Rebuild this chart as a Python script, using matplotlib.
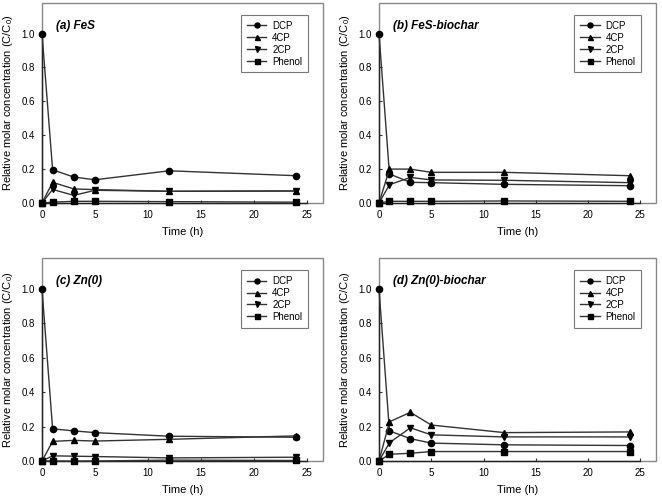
import matplotlib
matplotlib.use("Agg")
import matplotlib.pyplot as plt
from matplotlib.patches import Rectangle

time_h = [0, 1, 3, 5, 12, 24]
series_names = ["DCP", "4CP", "2CP", "Phenol"]
markers = ["o", "^", "v", "s"]

panel_titles = ["(a) FeS", "(b) FeS-biochar", "(c) Zn(0)", "(d) Zn(0)-biochar"]

fes_dcp = [1.0, 0.196, 0.153, 0.137, 0.190, 0.161]
fes_4cp = [0.0, 0.122, 0.083, 0.079, 0.069, 0.071]
fes_2cp = [0.0, 0.080, 0.045, 0.075, 0.069, 0.071]
fes_phenol = [0.0, 0.005, 0.010, 0.010, 0.008, 0.005]

fesb_dcp = [1.0, 0.171, 0.122, 0.120, 0.110, 0.102]
fesb_4cp = [0.0, 0.200, 0.200, 0.181, 0.181, 0.161]
fesb_2cp = [0.0, 0.108, 0.151, 0.136, 0.134, 0.120]
fesb_phenol = [0.0, 0.010, 0.010, 0.010, 0.012, 0.010]

zn_dcp = [1.0, 0.187, 0.175, 0.165, 0.144, 0.138]
zn_4cp = [0.0, 0.114, 0.120, 0.116, 0.126, 0.146]
zn_2cp = [0.0, 0.030, 0.028, 0.026, 0.018, 0.022]
zn_phenol = [0.0, 0.000, 0.000, 0.000, 0.005, 0.003]

znb_dcp = [1.0, 0.175, 0.130, 0.104, 0.094, 0.090]
znb_4cp = [0.0, 0.228, 0.283, 0.209, 0.165, 0.169]
znb_2cp = [0.0, 0.106, 0.193, 0.152, 0.140, 0.140]
znb_phenol = [0.0, 0.039, 0.045, 0.055, 0.055, 0.055]

panels = [
    [fes_dcp, fes_4cp, fes_2cp, fes_phenol],
    [fesb_dcp, fesb_4cp, fesb_2cp, fesb_phenol],
    [zn_dcp, zn_4cp, zn_2cp, zn_phenol],
    [znb_dcp, znb_4cp, znb_2cp, znb_phenol],
]

x_ticks = [0, 5, 10, 15, 20, 25]
y_ticks = [0.0, 0.2, 0.4, 0.6, 0.8, 1.0]

plt.rcParams['font.family'] = ['Liberation Sans', 'DejaVu Sans']
plt.rcParams['mathtext.fontset'] = 'custom'
plt.rcParams['mathtext.rm'] = 'Liberation Sans'

fig = plt.figure(figsize=(6.62, 4.99), dpi=100)

W, H = 662.0, 499.0
boxes = [
    (42, 323, 3, 203),
    (379, 656, 3, 203),
    (42, 323, 258, 461),
    (379, 656, 258, 461),
]

for i, (l, r, t, b) in enumerate(boxes):
    ax = fig.add_axes([l / W, (H - b) / H, (r - l) / W, (b - t) / H])
    for name, vals, mk in zip(series_names, panels[i], markers):
        ax.plot(time_h, vals, marker=mk, color="#333333", mfc="black", mec="black",
                markersize=4.5, linewidth=1.0, label=name, clip_on=False, zorder=3)
    ax.set_xlim(0, 26.5)
    ax.set_ylim(0, 1.18)
    ax.set_xticks(x_ticks)
    ax.set_yticks(y_ticks)
    ax.set_yticklabels([f"{v:.1f}" for v in y_ticks])
    ax.tick_params(direction="in", length=2.5, width=0.8, labelsize=7, pad=5, color="#333333")
    ax.spines["top"].set_visible(False)
    ax.spines["right"].set_visible(False)
    ax.spines["left"].set_bounds(0, 1.0)
    ax.spines["bottom"].set_bounds(0, 25)
    for s in ("left", "bottom"):
        ax.spines[s].set_color("#222222")
        ax.spines[s].set_linewidth(1.0)
        ax.spines[s].set_zorder(2)
    ax.add_patch(Rectangle((0, 0), 1, 1, transform=ax.transAxes, fill=False,
                           edgecolor="#888888", linewidth=1.0, zorder=1, clip_on=False))
    ax.set_xlabel("Time (h)", fontsize=8, labelpad=5)
    ax.set_ylabel("Relative molar concentration (C/C$_\\mathrm{0}$)", fontsize=8, labelpad=5)
    ax.text(0.05, 0.885, panel_titles[i], transform=ax.transAxes, fontsize=8.5,
            fontweight="bold", fontstyle="italic", ha="left", va="center")
    leg = ax.legend(loc="upper right", bbox_to_anchor=(0.947, 0.94), fontsize=7,
                    frameon=True, fancybox=False, edgecolor="#555555",
                    handlelength=2.0, borderpad=0.6, labelspacing=0.2,
                    handletextpad=0.6, borderaxespad=0, markerscale=0.8)
    leg.get_frame().set_linewidth(0.8)

fig.savefig("out.png", dpi=100)
